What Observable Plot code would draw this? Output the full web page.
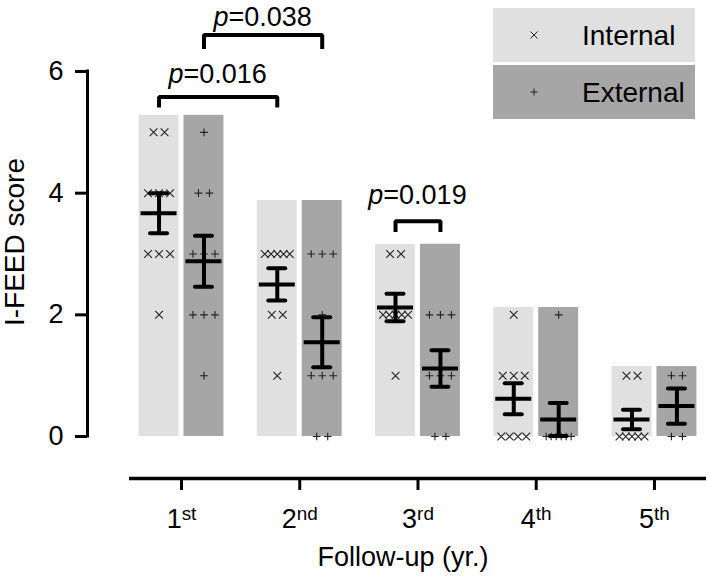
<!DOCTYPE html>
<html><head><meta charset="utf-8">
<script src="https://cdn.jsdelivr.net/npm/d3@7"></script>
<script src="https://cdn.jsdelivr.net/npm/@observablehq/plot@0.6"></script>
<style>
body{margin:0;background:#fff;}
#chart svg{font-family:"Liberation Sans", Arial, sans-serif;}
</style>
</head><body><div id="chart"></div>
<script>
// ---------- data ----------
const followUps = [1, 2, 3, 4, 5];
const ordinalSuffix = ["st", "nd", "rd", "th", "th"];
const seriesNames = ["Internal", "External"];
const internalScores = [
  [5,5,4,4,4,3,3,3,2],
  [3,3,3,3,3,2,2,1],
  [3,3,2,2,2,2,2,1],
  [2,1,1,1,0,0,0,0],
  [1,1,0,0,0,0,0]
];
const externalScores = [
  [5,4,4,3,3,3,2,2,2,1],
  [3,3,3,2,1,1,1,0,0],
  [2,2,2,1,1,1,0,0],
  [2,0,0,0,0,0,0],
  [1,1,0,0]
];
const internalMean = [3.67, 2.50, 2.12, 0.62, 0.28];
const internalSem  = [0.33, 0.265, 0.225, 0.255, 0.16];
const externalMean = [2.88, 1.55, 1.12, 0.28, 0.50];
const externalSem  = [0.42, 0.41, 0.30, 0.27, 0.29];
const barTops = [5.28, 3.88, 3.16, 2.12, 1.15];
const yTicks = [0, 2, 4, 6];
const pLabels = ["0.016", "0.038", "0.019"];
const pFrom = [[1, "Internal"], [1, "External"], [3, "Internal"]];
const pTo   = [[2, "Internal"], [2, "External"], [3, "External"]];
const bracketTop = [5.58, 6.60, 3.54];
const bracketFoot = [5.41, 6.37, 3.36];
const labelLevel = [5.80, 6.74, 3.81];

// ---------- layout ----------
const W = 708, H = 576;
const pxPerUnit = 118.25;
const offset = {Internal: -0.19, External: 0.19};
const halfBar = 0.169;
const colors = {Internal: "#e0e0e0", External: "#a6a6a6"};
const FONT = 27;

const allScores = {Internal: internalScores, External: externalScores};
const means = {Internal: internalMean, External: externalMean};
const sems = {Internal: internalSem, External: externalSem};

const bars = [], points = [], stats = [];
followUps.forEach((f, gi) => {
  seriesNames.forEach(s => {
    const c = f + offset[s];
    bars.push({s, x1: c - halfBar, x2: c + halfBar, top: barTops[gi]});
    const sc = allScores[s][gi];
    const counts = d3.rollup(sc, v => v.length, d => d);
    const seen = new Map();
    sc.forEach(v => {
      const k = counts.get(v), i = seen.get(v) || 0; seen.set(v, i + 1);
      const step = k > 1 ? Math.min(11, 25 / (k - 1)) : 0;
      points.push({s, v, x: c + ((i - (k - 1) / 2) * step) / pxPerUnit});
    });
    stats.push({s, c, m: means[s][gi], lo: means[s][gi] - sems[s][gi], hi: means[s][gi] + sems[s][gi]});
  });
});

const brackets = [];
pLabels.forEach((p, i) => {
  const xa = pFrom[i][0] + offset[pFrom[i][1]], xb = pTo[i][0] + offset[pTo[i][1]];
  [[xa, bracketFoot[i]], [xa, bracketTop[i]], [xb, bracketTop[i]], [xb, bracketFoot[i]]]
    .forEach(([x, y]) => brackets.push({id: i, x, y}));
});

const capHalf = 8.5 / pxPerUnit, meanHalf = 18 / pxPerUnit;

const plot = Plot.plot({
  width: W, height: H,
  marginLeft: 87, marginRight: 0, marginTop: 71, marginBottom: 98,
  x: {type: "linear", domain: [0.205, 5.457], axis: null},
  y: {domain: [-0.69, 6], axis: null},
  style: {fontFamily: '"Liberation Sans", Arial, sans-serif', background: "#fff", overflow: "visible"},
  marks: [
    Plot.rectY(bars, {x1: "x1", x2: "x2", y1: 0, y2: "top", fill: d => colors[d.s]}),
    Plot.dot(points.filter(d => d.s === "Internal"), {x: "x", y: "v", symbol: "times", r: 3.6, stroke: "#222", strokeWidth: 1.1}),
    Plot.dot(points.filter(d => d.s === "External"), {x: "x", y: "v", symbol: "plus", r: 2.6, stroke: "#222", strokeWidth: 1.1}),
    Plot.ruleX(stats, {x: "c", y1: "lo", y2: "hi", stroke: "#000", strokeWidth: 4}),
    Plot.ruleY(stats, {y: "lo", x1: d => d.c - capHalf, x2: d => d.c + capHalf, stroke: "#000", strokeWidth: 4, strokeLinecap: "round"}),
    Plot.ruleY(stats, {y: "hi", x1: d => d.c - capHalf, x2: d => d.c + capHalf, stroke: "#000", strokeWidth: 4, strokeLinecap: "round"}),
    Plot.ruleY(stats, {y: "m", x1: d => d.c - meanHalf, x2: d => d.c + meanHalf, stroke: "#000", strokeWidth: 4}),
    Plot.line(brackets, {x: "x", y: "y", z: "id", stroke: "#000", strokeWidth: 4, strokeLinejoin: "miter", strokeLinecap: "butt"}),
    // y axis
    Plot.ruleX([0.205], {y1: 0, y2: 6, stroke: "#000", strokeWidth: 3, strokeLinecap: "square"}),
    Plot.axisY({ticks: yTicks, tickSize: 12, tickPadding: 12, strokeWidth: 3, fontSize: FONT, tickFormat: d => String(d), color: "#000", label: null}),
    // x axis
    Plot.ruleY([-0.69], {x1: 0.56, x2: 5.44, stroke: "#000", strokeWidth: 3.5}),
    Plot.axisX({ticks: followUps, tickSize: 12, tickPadding: 18, strokeWidth: 3, fontSize: FONT, tickFormat: d => String(d), color: "#000", label: null})
  ]
});

const svg = d3.select(plot);
const xs = plot.scale("x"), ys = plot.scale("y");

// superscript ordinals on x tick labels
svg.selectAll('g[aria-label="x-axis tick label"] text').each(function() {
  const t = d3.select(this);
  const n = t.text();
  const idx = followUps.indexOf(+n);
  t.text(null);
  t.append("tspan").text(n);
  t.append("tspan").attr("dy", "-0.42em").attr("font-size", "0.7em").text(ordinalSuffix[idx]);
});

// p-value labels
pLabels.forEach((p, i) => {
  const xa = pFrom[i][0] + offset[pFrom[i][1]], xb = pTo[i][0] + offset[pTo[i][1]];
  const t = svg.append("text")
    .attr("x", xs.apply((xa + xb) / 2)).attr("y", ys.apply(labelLevel[i]))
    .attr("text-anchor", "middle").attr("font-size", FONT).attr("fill", "#000");
  t.append("tspan").attr("font-style", "italic").text("p");
  t.append("tspan").text("=" + p);
});

// axis titles
svg.append("text").attr("x", 403).attr("y", 566).attr("text-anchor", "middle")
  .attr("font-size", FONT).text("Follow-up (yr.)");
svg.append("text").attr("transform", "translate(24,242) rotate(-90)").attr("text-anchor", "middle")
  .attr("font-size", 28).text("I-FEED score");

// legend
const lg = svg.append("g");
seriesNames.forEach((s, i) => {
  const y0 = [8, 65][i];
  lg.append("rect").attr("x", 493).attr("y", y0).attr("width", 202).attr("height", 54).attr("fill", colors[s]);
  lg.append("path").attr("transform", `translate(534,${y0 + 27})`)
    .attr("d", d3.symbol(s === "Internal" ? d3.symbolTimes : d3.symbolPlus, s === "Internal" ? 34 : 18)())
    .attr("fill", "none").attr("stroke", "#222").attr("stroke-width", 1);
  lg.append("text").attr("x", 582).attr("y", y0 + 27).attr("dy", "0.36em")
    .attr("text-anchor", "start").attr("font-size", 28).text(s);
});

document.getElementById("chart").appendChild(plot);
</script>
</body></html>
